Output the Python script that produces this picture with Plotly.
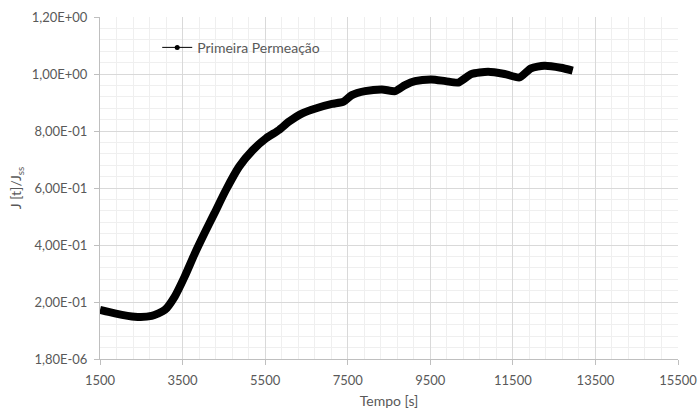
import plotly.graph_objects as go

tempo = [1500, 1860, 2340, 2750, 3070, 3310, 3550, 3790, 4030, 4270, 4550, 4870,
         5200, 5520, 5840, 6080, 6400, 6740, 7120, 7400, 7600, 7920, 8330, 8650,
         8890, 9130, 9530, 9870, 10180, 10500, 10900, 11300, 11660, 11940, 12260,
         12660, 12950]
fluxo = [0.172, 0.160, 0.148, 0.151, 0.172, 0.219, 0.289, 0.368, 0.441, 0.511,
         0.593, 0.675, 0.733, 0.774, 0.804, 0.833, 0.862, 0.880, 0.895, 0.903,
         0.926, 0.940, 0.946, 0.940, 0.961, 0.975, 0.981, 0.975, 0.970, 1.000,
         1.008, 1.000, 0.988, 1.020, 1.029, 1.022, 1.012]

y_tickvals = [1.8e-6, 0.2, 0.4, 0.6, 0.8, 1.0, 1.2]
y_ticktext = ["1,80E-06", "2,00E-01", "4,00E-01", "6,00E-01", "8,00E-01", "1,00E+00", "1,20E+00"]
x_tickvals = [1500, 3500, 5500, 7500, 9500, 11500, 13500, 15500]
x_ticktext = [str(v) for v in x_tickvals]

series_name = "Primeira Permeação"

font_family = "Lato, 'Open Sans', sans-serif"
txt = "#595959"

fig = go.Figure()
fig.add_trace(go.Scatter(
    x=tempo, y=fluxo, mode="lines",
    line=dict(color="black", width=8, shape="spline", smoothing=0.6),
    showlegend=False, hoverinfo="skip"))
fig.add_trace(go.Scatter(
    x=[None], y=[None], mode="lines+markers", name=series_name,
    line=dict(color="black", width=1), marker=dict(color="black", size=5)))

fig.update_layout(
    width=699, height=412,
    margin=dict(l=100, r=21, t=17, b=53),
    paper_bgcolor="white", plot_bgcolor="white",
    font=dict(family=font_family, size=13, color=txt),
    legend=dict(x=0.099, y=0.91, xanchor="left", yanchor="middle",
                bgcolor="rgba(0,0,0,0)", font=dict(size=14, color=txt)),
    showlegend=True,
)
fig.update_xaxes(
    range=[1500, 15500], tickmode="array", tickvals=x_tickvals, ticktext=x_ticktext,
    showgrid=True, gridcolor="#d9d9d9", gridwidth=1,
    minor=dict(tick0=1500, dtick=400, showgrid=True, gridcolor="#efefef", gridwidth=1),
    showline=True, linecolor="#bfbfbf", linewidth=1,
    ticks="outside", ticklen=5, tickcolor="#bfbfbf", ticklabelstandoff=4,
    zeroline=False, automargin=False,
    title=dict(text="Tempo [s]", font=dict(size=14, color=txt), standoff=9),
)
fig.update_yaxes(
    range=[0, 1.2], tickmode="array", tickvals=y_tickvals, ticktext=y_ticktext,
    showgrid=True, gridcolor="#d9d9d9", gridwidth=1,
    minor=dict(tick0=0, dtick=0.04, showgrid=True, gridcolor="#efefef", gridwidth=1),
    showline=True, linecolor="#bfbfbf", linewidth=1,
    ticks="outside", ticklen=5, tickcolor="#bfbfbf", ticklabelstandoff=4,
    zeroline=False, automargin=False,
    title=dict(text="J [t]/J<sub>ss</sub>", font=dict(size=14, color=txt), standoff=6),
)

fig.write_html("out.html")
